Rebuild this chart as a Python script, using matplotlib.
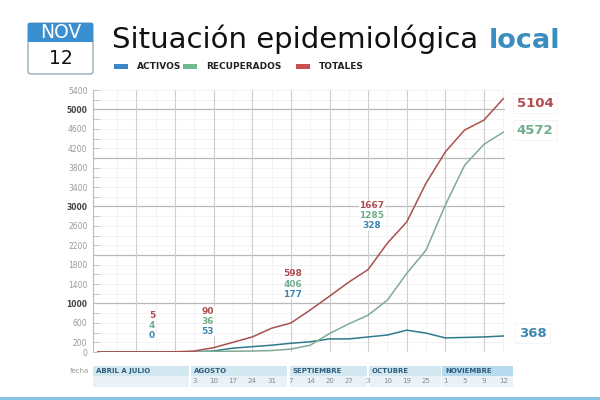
import numpy as np
import matplotlib
matplotlib.use('Agg')
import matplotlib.pyplot as plt
from matplotlib.patches import Rectangle, FancyBboxPatch
import matplotlib.transforms as mtransforms

# datos (semanas)
dias = ['', '', '', '', '', '3', '10', '17', '24', '31', '7', '14', '20', '27',
        '3', '10', '19', '25', '1', '5', '9', '12']
totales = [2, 3, 3, 4, 5, 20, 90, 200, 310, 490, 598, 865, 1150, 1440,
           1700, 2245, 2680, 3480, 4125, 4575, 4780, 5220]
recuperados = [0, 0, 0, 0, 4, 5, 10, 15, 20, 30, 60, 140, 380, 580,
               760, 1070, 1620, 2100, 3030, 3850, 4280, 4530]
activos = [0, 0, 0, 0, 0, 5, 20, 80, 110, 140, 180, 210, 270, 270,
           310, 350, 450, 390, 290, 300, 310, 330]

meses = ['ABRIL A JULIO', 'AGOSTO', 'SEPTIEMBRE', 'OCTUBRE', 'NOVIEMBRE']
meses_ini = [-0.25, 4.85, 9.95, 14.05, 17.85]
meses_fin = [4.7, 9.8, 13.95, 17.75, 21.5]

# etiquetas de valores
etiq_pos = [2.8, 5.7, 10.1, 14.2]
etiq_tot = ['5', '90', '598', '1667']
etiq_rec = ['4', '36', '406', '1285']
etiq_act = ['0', '53', '177', '328']
final_tot, final_rec, final_act = '5104', '4572', '368'

ytick_pos = [0, 200] + list(range(600, 5401, 400))

c_tot = '#a9504e'
c_rec = '#7faa93'
c_act = '#2e7a8c'
c_tot_txt = '#b04c50'
c_rec_txt = '#6fae8c'
c_act_txt = '#3d88b0'

fig = plt.figure(figsize=(6, 4), dpi=100)
ax = fig.add_axes([0.155, 0.12, 0.687, 0.655])
x = np.arange(len(totales))

ax.set_xlim(-0.25, 21.1)
ax.set_ylim(0, 5400)

# grilla
for v in range(200, 5401, 200):
    if v % 1000 == 0:
        ax.axhline(v, color='#b8b8b8', lw=0.9, zorder=1)
    else:
        ax.axhline(v, color='#efefef', lw=0.5, zorder=0)
for i in range(1, 22):
    if i % 2 == 0:
        ax.axvline(i, color='#cfcfcf', lw=0.8, zorder=1)
    else:
        ax.axvline(i, color='#efefef', lw=0.5, zorder=0)

ax.plot(x, activos, color=c_act, lw=1.1, zorder=3)
ax.plot(x, recuperados, color=c_rec, lw=1.1, zorder=3)
ax.plot(x, totales, color=c_tot, lw=1.1, zorder=3)

for s in ['top', 'right', 'bottom']:
    ax.spines[s].set_visible(False)
ax.spines['left'].set_color('#bbbbbb')
ax.spines['left'].set_linewidth(0.8)
ax.set_xticks([])
ax.set_yticks(ytick_pos)
lbls = ax.set_yticklabels([str(v) for v in ytick_pos])
for t, v in zip(lbls, ytick_pos):
    t.set_color('#444444' if v in (1000, 3000, 5000) else '#9a9a9a')
    t.set_fontweight('bold' if v in (1000, 3000, 5000) else 'normal')
ax.set_yticks(range(0, 5401, 200), minor=True)
ax.tick_params(axis='y', which='both', direction='in', length=4, width=0.6,
               color='#bbbbbb', labelsize=5.5, pad=4)

# etiquetas de valores
ys = {2.8: (760, 555, 350), 5.7: (840, 635, 430), 10.1: (1610, 1400, 1195),
      14.2: (3010, 2805, 2600)}
for p, t, r, a in zip(etiq_pos, etiq_tot, etiq_rec, etiq_act):
    y1, y2, y3 = ys[p]
    kw = dict(ha='center', va='center', fontsize=6.5, fontweight='bold', zorder=5,
              bbox=dict(fc='white', ec='none', pad=0.5))
    ax.text(p, y1, t, color=c_tot_txt, **kw)
    ax.text(p, y2, r, color=c_rec_txt, **kw)
    ax.text(p, y3, a, color=c_act_txt, **kw)

kw = dict(ha='left', va='center', fontsize=9.5, fontweight='bold', clip_on=False,
          bbox=dict(fc='white', ec='#f0f0f0', lw=0.5, pad=2.5))
ax.text(21.7, 5130, final_tot, color=c_tot_txt, **kw)
ax.text(21.7, 4570, final_rec, color=c_rec_txt, **kw)
ax.text(21.8, 390, final_act, color=c_act_txt, **kw)

# bandas de meses
trans = mtransforms.blended_transform_factory(ax.transData, ax.transAxes)
for m, a, b in zip(meses, meses_ini, meses_fin):
    col = '#b7dbee' if m == 'NOVIEMBRE' else '#d3e7f1'
    ax.add_patch(Rectangle((a, -0.053), b - a, -0.038, transform=trans,
                           fc=col, ec='none', clip_on=False))
    ax.add_patch(Rectangle((a, -0.091), b - a, -0.042, transform=trans,
                           fc='#e8f2f8', ec='none', clip_on=False))
    ax.text(a + 0.15, -0.072, m, transform=trans, fontsize=5, fontweight='bold',
            color='#2f5d7c', va='center', ha='left')
for i, d in enumerate(dias):
    if d:
        ax.text(i, -0.112, d, transform=trans, fontsize=5, color='#8a8a8a',
                ha='center', va='center')
fig.text(80 / 600, 1 - 371 / 400, 'fecha', fontsize=5, color='#999999',
         ha='center', va='center')

# titulo
fig.text(112 / 600, 1 - 48 / 400, 'Situación epidemiológica', fontsize=21,
         color='#111111', va='baseline', ha='left', family='DejaVu Sans')
fig.text(489 / 600, 1 - 48 / 400, 'local', fontsize=19.5, fontweight='bold',
         color='#3b8fc0', va='baseline', ha='left', family='DejaVu Sans')

# fecha en caja
fig.patches.append(FancyBboxPatch((28 / 600, 1 - 74 / 400), 65 / 600, 51 / 400,
                                  boxstyle='round,pad=0,rounding_size=0.006',
                                  transform=fig.transFigure, fc='white',
                                  ec='#7d95a8', lw=0.8))
fig.patches.append(Rectangle((28 / 600, 1 - 42 / 400), 65 / 600, 19 / 400,
                             transform=fig.transFigure, fc='#3a8fd0', ec='none'))
fig.text(60.5 / 600, 1 - 32.5 / 400, 'NOV', fontsize=13.5, color='white',
         ha='center', va='center', family='DejaVu Sans')
fig.text(60.5 / 600, 1 - 58 / 400, '12', fontsize=13.5, color='#111111',
         ha='center', va='center', family='DejaVu Sans')

# leyenda
leg = [('ACTIVOS', '#3a87c8', 114), ('RECUPERADOS', '#6dbb8c', 183),
       ('TOTALES', '#c8504f', 296)]
for nombre, col, px in leg:
    fig.patches.append(Rectangle((px / 600, 1 - 69 / 400), 14 / 600, 5 / 400,
                                 transform=fig.transFigure, fc=col, ec='none'))
    fig.text((px + 23) / 600, 1 - 66.5 / 400, nombre, fontsize=6.5,
             fontweight='bold', color='#222222', va='center', ha='left')

# linea inferior
fig.add_artist(plt.Line2D([0, 1], [1 - 398 / 400, 1 - 398 / 400],
                          transform=fig.transFigure, color='#7fbfe0', lw=2))

fig.savefig('out.png', dpi=100, facecolor='white')
